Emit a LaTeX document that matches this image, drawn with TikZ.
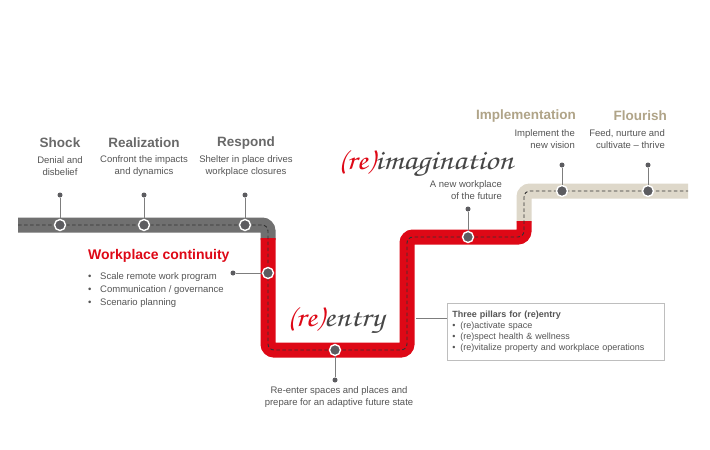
\documentclass[tikz,border=0pt]{standalone}
\usepackage{graphicx}
\usepackage{fontspec}
\setmainfont{Liberation Sans}
\newfontfamily\handfont{texgyrechorus-mediumitalic.otf}
\usetikzlibrary{calc}

\definecolor{bandgray}{RGB}{112,112,112}
\definecolor{bandred}{RGB}{222,8,22}
\definecolor{bandbeige}{RGB}{222,216,202}
\definecolor{titlebeige}{RGB}{176,164,136}
\definecolor{titlegray}{RGB}{105,105,105}
\definecolor{textgray}{RGB}{85,85,85}
\definecolor{dashgray}{RGB}{50,50,50}
\definecolor{stopgray}{RGB}{92,92,96}
\definecolor{leadgray}{RGB}{125,125,125}
\definecolor{boxgray}{RGB}{190,190,190}
\definecolor{handgray}{RGB}{70,70,70}

\newcommand\bul{\makebox[12pt][l]{\textbullet}}
\newcommand\pbul{\makebox[8pt][l]{\textbullet}}
\newcommand\handword[1]{\scalebox{1.17}[1]{#1}}

\tikzset{
  band/.style={line width=15pt, rounded corners=6pt, line cap=butt},
  track/.style={draw=dashgray, line width=0.9pt, dash pattern=on 3.5pt off 2.5pt, rounded corners=6pt},
  stopdot/.style={circle, fill=stopgray, draw=white, line width=1.4pt, minimum size=11pt, inner sep=0pt},
  pindot/.style={circle, fill=stopgray, minimum size=5pt, inner sep=0pt},
  leader/.style={draw=leadgray, line width=0.8pt},
  phase/.style={font=\fontsize{13.5}{16}\selectfont\bfseries, text=titlegray, inner sep=0pt},
  note/.style={font=\fontsize{9.5}{12}\selectfont, text=textgray, align=center, inner sep=0pt},
  script/.style={font=\handfont\fontsize{28}{28}\selectfont, text=handgray, inner sep=0pt}
}

\begin{document}
\begin{tikzpicture}[x=1pt, y=-1pt]

    \fill[white] (0,0) rectangle (710,450);
    \useasboundingbox (0,0) rectangle (710,450);

    % the path through the phases
    \draw[band, bandgray] (18,225) -- (268,225) -- (268,240);
    \draw[band, bandbeige] (524,223) -- (524,191) -- (688,191);
    \draw[band, bandred] (268,238) -- (268,350) -- (407,350) -- (407,237) -- (524,237) -- (524,221);
    \draw[track] (18,225) -- (268,225) -- (268,350) -- (407,350) -- (407,237)
                 -- (524,237) -- (524,191) -- (688,191);

    \node[stopdot] (shockpt) at (60,225) {};
    \node[stopdot] (realpt) at (144,225) {};
    \node[stopdot] (resppt) at (245,225) {};
    \node[stopdot] (contpt) at (268,273) {};
    \node[stopdot] (entrypt) at (335,350) {};
    \node[stopdot] (imagpt) at (468,237) {};
    \node[stopdot] (implpt) at (562,191) {};
    \node[stopdot] (flourpt) at (648,191) {};

    \node[pindot] (shockpin) at (60,195) {};
    \node[pindot] (realpin) at (144,195) {};
    \node[pindot] (resppin) at (245,195) {};
    \node[pindot] (contpin) at (233,273) {};
    \node[pindot] (entrypin) at (335,380) {};
    \node[pindot] (imagpin) at (468,209) {};
    \node[pindot] (implpin) at (562,165) {};
    \node[pindot] (flourpin) at (648,165) {};

    \draw[leader] (shockpin) -- (shockpt);
    \draw[leader] (realpin) -- (realpt);
    \draw[leader] (resppin) -- (resppt);
    \draw[leader] (contpin) -- (contpt);
    \draw[leader] (entrypin) -- (entrypt);
    \draw[leader] (imagpin) -- (imagpt);
    \draw[leader] (implpin) -- (implpt);
    \draw[leader] (flourpin) -- (flourpt);

    % phase titles
    \node[phase] (shock) at (60,143) {Shock};
    \node[note] (shockdesc) at (60,166) {Denial and\\disbelief};
    \node[phase] (real) at (144,143) {Realization};
    \node[note] (realdesc) at (144,166) {Confront the impacts\\and dynamics};
    \node[phase] (resp) at (246,143) {Respond};
    \node[note] (respdesc) at (246,166) {Shelter in place drives\\workplace closures};
    \node[phase, text=titlebeige, anchor=east] (impl) at (576,116) {Implementation};
    \node[note, align=right, anchor=east] (impldesc) at (575,139) {Implement the\\new vision};
    \node[phase, text=titlebeige, anchor=east] (flour) at (667,116) {Flourish};
    \node[note, align=right, anchor=east] (flourdesc) at (665,139) {Feed, nurture and\\cultivate – thrive};

    \node[phase, font=\fontsize{14}{16}\selectfont\bfseries, text=bandred, anchor=west] (cont) at (88,256) {Workplace continuity};
    \node[note, font=\fontsize{9.5}{13}\selectfont, align=left, anchor=west] (contlist) at (88,290)
        {\bul Scale remote work program\\\bul Communication / governance\\\bul Scenario planning};

    \node[script, anchor=base west] (imagword) at (338,169) {\handword{\textcolor{bandred}{(re)}imagination}};
    \node[note, align=right, anchor=east] (imagdesc) at (502,190) {A new workplace\\of the future};

    \node[script, anchor=base west] (entryword) at (287,326) {\handword{\textcolor{bandred}{(re)}entry}};
    \node[note, font=\fontsize{9.5}{12.5}\selectfont] (entrydesc) at (339,397) {Re-enter spaces and places and\\prepare for an adaptive future state};

    \node[draw=boxgray, line width=0.8pt, anchor=north west, minimum width=217pt, minimum height=57pt,
          text width=207pt, align=left, inner xsep=5pt, inner ysep=0pt,
          font=\fontsize{9}{11}\selectfont, text=textgray] (pillars) at (447,303)
        {\textbf{Three pillars for (re)entry}\\\pbul (re)activate space\\\pbul (re)spect health \& wellness\\\pbul (re)vitalize property and workplace operations};
    \coordinate (pilltip) at (416,318);
    \draw[leader] (pilltip) -- (pilltip -| pillars.west);

\end{tikzpicture}
\end{document}
